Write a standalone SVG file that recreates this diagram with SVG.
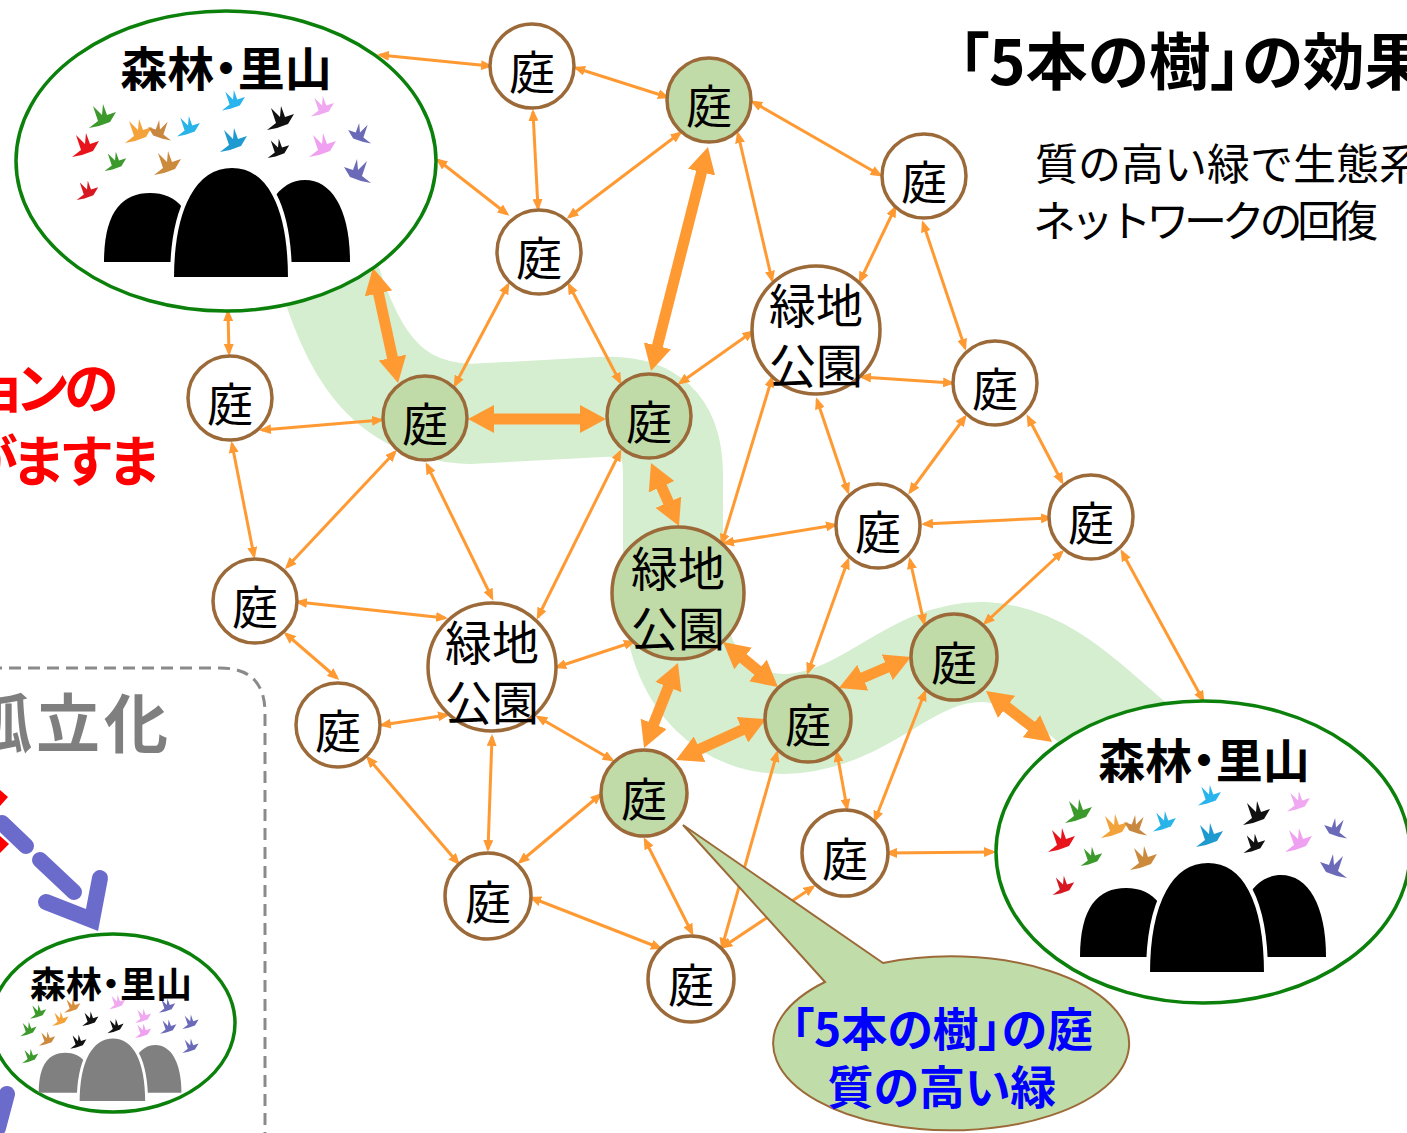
<svg xmlns="http://www.w3.org/2000/svg" xmlns:xlink="http://www.w3.org/1999/xlink" width="1407" height="1133" viewBox="0 0 1407 1133">
  <style>
    .jp { font-family: "Noto Sans CJK JP", "Noto Sans CJK SC", sans-serif; }
    .pp { font-feature-settings: "palt" 1; }
    .nd circle { stroke: #9c6a38; stroke-width: 3.5; }
    .w { fill: #ffffff; }
    .g { fill: #c0dba8; }
    .lbl { font-size: 46px; text-anchor: middle; fill: #000; }
    .park { font-size: 47px; text-anchor: middle; fill: #000; }
    .forest { fill: #ffffff; stroke: #0b800b; stroke-width: 3.5; }
    .ftitle { font-weight: bold; text-anchor: middle; fill: #000; }
    .thin { stroke: #ff9a33; stroke-width: 3; fill: none; marker-start: url(#ah); marker-end: url(#ah); }
    .thick { stroke: #ff9a33; stroke-width: 11; fill: none; marker-start: url(#ahb); marker-end: url(#ahb); }
  </style>
  <defs>
    <marker id="ah" viewBox="0 0 12 10" markerWidth="12" markerHeight="10" refX="9" refY="5" orient="auto-start-reverse" markerUnits="userSpaceOnUse">
      <path d="M0,0 L12,5 L0,10 Z" fill="#ff9a33"/>
    </marker>
    <marker id="ahb" viewBox="0 0 26 28" markerWidth="26" markerHeight="28" refX="14" refY="14" orient="auto-start-reverse" markerUnits="userSpaceOnUse">
      <path d="M0,0 L26,14 L0,28 Z" fill="#ff9a33"/>
    </marker>
    <!-- small flying bird icon -->
    <path id="bird" d="M-13,10 L-4,3 L-9,-12 L0,-3 L1,-14 L5,-3 L14,-6 L8,4 L-3,8 Z"/>
    <!-- birds and hills of a forest patch -->
    <g id="forestArt">
      <use href="#bird" x="102" y="118" fill="#3c9a2c"/>
      <use href="#bird" x="85" y="147" fill="#e8141c"/>
      <use href="#bird" x="115" y="163" fill="#3c9a2c" transform="translate(115,163) scale(0.8) translate(-115,-163)"/>
      <use href="#bird" x="87" y="192" fill="#d81820" transform="translate(87,192) scale(0.8) translate(-87,-192)"/>
      <use href="#bird" x="138" y="133" fill="#f4a23a"/>
      <use href="#bird" fill="#c88840" transform="translate(160,132) scale(-0.85,0.85)"/>
      <use href="#bird" x="188" y="128" fill="#28b4e8" transform="translate(188,128) scale(0.85) translate(-188,-128)"/>
      <use href="#bird" x="167" y="165" fill="#cc8a3c"/>
      <use href="#bird" x="233" y="102" fill="#28b4ec" transform="translate(233,102) scale(0.85) translate(-233,-102)"/>
      <use href="#bird" x="233" y="142" fill="#1e9ad0"/>
      <use href="#bird" x="280" y="120" fill="#111111"/>
      <use href="#bird" x="278" y="150" fill="#111111" transform="translate(278,150) scale(0.8) translate(-278,-150)"/>
      <use href="#bird" x="322" y="108" fill="#f0a8f0" transform="translate(322,108) scale(0.85) translate(-322,-108)"/>
      <use href="#bird" x="322" y="147" fill="#f0a0f0"/>
      <use href="#bird" fill="#6a6ab8" transform="translate(360,135) scale(-0.85,0.85)"/>
      <use href="#bird" fill="#6a6ab8" transform="translate(358,173) scale(-1,1)"/>
      <path d="M104 262 C104 212 122 193 150 193 C178 193 196 212 196 262 Z" fill="#000"/>
      <path d="M258 262 C258 210 278 180 305 180 C332 180 350 210 350 262 Z" fill="#000"/>
      <path d="M172 279 C172 205 196 166 232 166 C268 166 290 205 290 279 Z" fill="#000" stroke="#fff" stroke-width="4"/>
    </g>
  </defs>

  <rect width="1407" height="1133" fill="#ffffff"/>

  <!-- green corridor -->
  <path d="M 318 240 C 345 330, 370 410, 470 414 L 600 407 C 650 404, 673 425, 673 475 L 673 590 C 673 680, 730 735, 805 722 C 875 710, 915 650, 985 652 C 1045 655, 1085 700, 1150 755" fill="none" stroke="#d4eecf" stroke-width="100"/>

  <!-- left panel fragments -->
  <g id="left-panel">
    <text class="jp" x="-27 15 64" y="408" font-size="55" font-weight="bold" fill="#ff0000">ョンの</text>
    <text class="jp" x="-37 11 59 107" y="481" font-size="55" font-weight="bold" fill="#ff0000">がますま</text>
    <path d="M -10 668 L 220 668 Q 265 668 265 713 L 265 1140" fill="none" stroke="#8a8a8a" stroke-width="3" stroke-dasharray="12 7"/>
    <text class="jp" x="-32" y="747" font-size="64" font-weight="bold" fill="#7f7f7f" letter-spacing="4">孤立化</text>
    <path d="M0 790 L8 797 L0 806 Z" fill="#ff0000"/>
    <path d="M0 836 L9 844 L0 853 Z" fill="#ff0000"/>
    <g stroke="#6b6bcc" stroke-width="16" stroke-linecap="round" fill="none">
      <path d="M 2 823 L 26 846"/>
      <path d="M 40 860 L 74 892"/>
      <path d="M 46 902 L 92 920 L 100 878" stroke-linejoin="miter"/>
      <path d="M -2 1128 L 7 1094"/>
    </g>
  </g>

  <!-- connectors -->
  <g id="connectors">
    <line class="thin" x1="380" y1="55" x2="490" y2="66"/>
    <line class="thin" x1="576" y1="68" x2="667" y2="97"/>
    <line class="thin" x1="533" y1="112" x2="538" y2="208"/>
    <line class="thin" x1="438" y1="160" x2="507" y2="214"/>
    <line class="thin" x1="680" y1="133" x2="569" y2="217"/>
    <line class="thin" x1="753" y1="102" x2="880" y2="175"/>
    <line class="thin" x1="738" y1="134" x2="772" y2="280"/>
    <line class="thin" x1="508" y1="285" x2="455" y2="385"/>
    <line class="thin" x1="569" y1="285" x2="620" y2="382"/>
    <line class="thin" x1="895" y1="208" x2="860" y2="281"/>
    <line class="thin" x1="923" y1="223" x2="965" y2="348"/>
    <line class="thin" x1="680" y1="383" x2="752" y2="332"/>
    <line class="thin" x1="862" y1="377" x2="952" y2="383"/>
    <line class="thin" x1="228" y1="312" x2="229" y2="353"/>
    <line class="thin" x1="262" y1="430" x2="381" y2="420"/>
    <line class="thin" x1="232" y1="444" x2="254" y2="556"/>
    <line class="thin" x1="395" y1="452" x2="287" y2="567"/>
    <line class="thin" x1="427" y1="465" x2="492" y2="598"/>
    <line class="thin" x1="620" y1="452" x2="538" y2="617"/>
    <line class="thin" x1="772" y1="378" x2="722" y2="543"/>
    <line class="thin" x1="817" y1="400" x2="848" y2="492"/>
    <line class="thin" x1="965" y1="417" x2="910" y2="492"/>
    <line class="thin" x1="1028" y1="417" x2="1062" y2="482"/>
    <line class="thin" x1="725" y1="543" x2="835" y2="525"/>
    <line class="thin" x1="924" y1="524" x2="1050" y2="518"/>
    <line class="thin" x1="848" y1="560" x2="808" y2="672"/>
    <line class="thin" x1="910" y1="560" x2="924" y2="623"/>
    <line class="thin" x1="1062" y1="552" x2="985" y2="623"/>
    <line class="thin" x1="1122" y1="552" x2="1203" y2="700"/>
    <line class="thin" x1="298" y1="602" x2="445" y2="618"/>
    <line class="thin" x1="286" y1="634" x2="337" y2="678"/>
    <line class="thin" x1="382" y1="725" x2="447" y2="715"/>
    <line class="thin" x1="368" y1="758" x2="458" y2="863"/>
    <line class="thin" x1="557" y1="667" x2="633" y2="642"/>
    <line class="thin" x1="492" y1="737" x2="488" y2="849"/>
    <line class="thin" x1="538" y1="717" x2="612" y2="760"/>
    <line class="thin" x1="600" y1="795" x2="520" y2="862"/>
    <line class="thin" x1="645" y1="840" x2="692" y2="933"/>
    <line class="thin" x1="777" y1="753" x2="722" y2="947"/>
    <line class="thin" x1="837" y1="753" x2="847" y2="808"/>
    <line class="thin" x1="925" y1="692" x2="875" y2="820"/>
    <line class="thin" x1="888" y1="853" x2="993" y2="852"/>
    <line class="thin" x1="532" y1="898" x2="660" y2="948"/>
    <line class="thin" x1="723" y1="947" x2="813" y2="887"/>

    <line class="thick" x1="375.5" y1="279.7" x2="395.5" y2="371.3"/>
    <line class="thick" x1="705" y1="158.6" x2="654" y2="359.4"/>
    <line class="thick" x1="480" y1="419" x2="594" y2="419"/>
    <line class="thick" x1="655.9" y1="474" x2="674.1" y2="515"/>
    <line class="thick" x1="732.3" y1="649.6" x2="768.7" y2="679.4"/>
    <line class="thick" x1="673.5" y1="674.1" x2="648.5" y2="736.9"/>
    <line class="thick" x1="755.1" y1="724" x2="686.9" y2="755"/>
    <line class="thick" x1="850" y1="683.3" x2="900" y2="661.7"/>
    <line class="thick" x1="995.5" y1="698.3" x2="1042.5" y2="734.7"/>
  </g>

  <!-- forest patches -->
  <g id="forest-nw">
    <ellipse class="forest" cx="226" cy="161" rx="210" ry="150"/>
    <use href="#forestArt"/>
    <text class="jp pp ftitle" x="226" y="86" font-size="47">森林・里山</text>
  </g>
  <g id="forest-se">
    <ellipse class="forest" cx="1203" cy="852" rx="207" ry="151"/>
    <use href="#forestArt" transform="translate(976,695)"/>
    <text class="jp pp ftitle" x="1204" y="778" font-size="47">森林・里山</text>
  </g>
  <g id="forest-isolated">
    <ellipse class="forest" cx="113" cy="1023" rx="122" ry="89"/>
    <g transform="translate(-21.6,940.7) scale(0.58)">
      <path d="M104 262 C104 212 122 193 150 193 C178 193 196 212 196 262 Z" fill="#808080"/>
      <path d="M258 262 C258 210 278 180 305 180 C332 180 350 210 350 262 Z" fill="#808080"/>
      <path d="M172 279 C172 205 196 166 232 166 C268 166 290 205 290 279 Z" fill="#808080" stroke="#fff" stroke-width="5"/>
    </g>
    <g transform="scale(0.6)">
      <use href="#bird" x="63" y="1688" fill="#3c9a2c"/>
      <use href="#bird" x="47" y="1717" fill="#3c9a2c"/>
      <use href="#bird" x="50" y="1762" fill="#3c9a2c"/>
      <use href="#bird" x="120" y="1678" fill="#d89040"/>
      <use href="#bird" x="100" y="1700" fill="#f4a23a"/>
      <use href="#bird" x="78" y="1733" fill="#cc8a3c"/>
      <use href="#bird" x="150" y="1700" fill="#111"/>
      <use href="#bird" x="192" y="1712" fill="#111"/>
      <use href="#bird" x="130" y="1738" fill="#111"/>
      <use href="#bird" x="195" y="1672" fill="#f0a8f0"/>
      <use href="#bird" x="238" y="1695" fill="#f0a8f0"/>
      <use href="#bird" x="238" y="1720" fill="#f0a0f0"/>
      <use href="#bird" x="278" y="1678" fill="#6a6ab8"/>
      <use href="#bird" x="280" y="1713" fill="#6a6ab8"/>
      <use href="#bird" x="317" y="1705" fill="#6a6ab8"/>
      <use href="#bird" x="317" y="1745" fill="#6a6ab8"/>
    </g>
    <text class="jp pp ftitle" x="111" y="998" font-size="36">森林・里山</text>
  </g>

  <!-- garden and park nodes -->
  <g id="n1" class="nd"><circle class="w" cx="532" cy="66" r="42"/><text class="jp lbl" x="532" y="89">庭</text></g>
  <g id="g1" class="nd"><circle class="g" cx="709" cy="100" r="42"/><text class="jp lbl" x="709" y="123">庭</text></g>
  <g id="n2" class="nd"><circle class="w" cx="539" cy="252" r="42"/><text class="jp lbl" x="539" y="275">庭</text></g>
  <g id="n3" class="nd"><circle class="w" cx="924" cy="176" r="42"/><text class="jp lbl" x="924" y="199">庭</text></g>
  <g id="n4" class="nd"><circle class="w" cx="230" cy="398" r="42"/><text class="jp lbl" x="230" y="421">庭</text></g>
  <g id="g2" class="nd"><circle class="g" cx="425" cy="418" r="42"/><text class="jp lbl" x="425" y="441">庭</text></g>
  <g id="g3" class="nd"><circle class="g" cx="649" cy="416" r="42"/><text class="jp lbl" x="649" y="439">庭</text></g>
  <g id="p1" class="nd"><circle class="w" cx="816" cy="330" r="64"/><text class="jp park" x="816" y="323">緑地</text><text class="jp park" x="816" y="383">公園</text></g>
  <g id="n5" class="nd"><circle class="w" cx="995" cy="383" r="42"/><text class="jp lbl" x="995" y="406">庭</text></g>
  <g id="n6" class="nd"><circle class="w" cx="878" cy="526" r="42"/><text class="jp lbl" x="878" y="549">庭</text></g>
  <g id="n7" class="nd"><circle class="w" cx="1091" cy="517" r="42"/><text class="jp lbl" x="1091" y="540">庭</text></g>
  <g id="n8" class="nd"><circle class="w" cx="255" cy="601" r="42"/><text class="jp lbl" x="255" y="624">庭</text></g>
  <g id="p2" class="nd"><circle class="g" cx="678" cy="593" r="66"/><text class="jp park" x="678" y="586">緑地</text><text class="jp park" x="678" y="646">公園</text></g>
  <g id="p3" class="nd"><circle class="w" cx="492" cy="667" r="64"/><text class="jp park" x="492" y="660">緑地</text><text class="jp park" x="492" y="720">公園</text></g>
  <g id="g4" class="nd"><circle class="g" cx="954" cy="657" r="43"/><text class="jp lbl" x="954" y="680">庭</text></g>
  <g id="n9" class="nd"><circle class="w" cx="338" cy="725" r="42"/><text class="jp lbl" x="338" y="748">庭</text></g>
  <g id="g5" class="nd"><circle class="g" cx="808" cy="719" r="43"/><text class="jp lbl" x="808" y="742">庭</text></g>
  <g id="g6" class="nd"><circle class="g" cx="644" cy="793" r="43"/><text class="jp lbl" x="644" y="816">庭</text></g>
  <g id="n10" class="nd"><circle class="w" cx="845" cy="853" r="43"/><text class="jp lbl" x="845" y="876">庭</text></g>
  <g id="n11" class="nd"><circle class="w" cx="488" cy="896" r="43"/><text class="jp lbl" x="488" y="919">庭</text></g>
  <g id="n12" class="nd"><circle class="w" cx="691" cy="979" r="43"/><text class="jp lbl" x="691" y="1002">庭</text></g>

  <!-- callout -->
  <g id="callout">
    <path d="M 825 982 L 683 825 L 883 963 A 178 87 0 1 1 825 982 Z" fill="#c0dca9" stroke="#9c6a38" stroke-width="2"/>
    <text class="jp pp" x="942" y="1046" font-size="46" font-weight="bold" fill="#0000ff" text-anchor="middle">「5本の樹」の庭</text>
    <text class="jp pp" x="942" y="1104" font-size="46" font-weight="bold" fill="#0000ff" text-anchor="middle">質の高い緑</text>
  </g>

  <!-- heading -->
  <g id="heading">
    <text class="jp pp" x="958" y="85" font-size="62" font-weight="bold" fill="#000">「5本の樹」の効果</text>
    <text class="jp" x="1035" y="180" font-size="43" fill="#000">質の高い緑で生態系</text>
    <text class="jp" x="1033" y="237" font-size="43" fill="#000" textLength="345" lengthAdjust="spacing">ネットワークの回復</text>
  </g>
</svg>
